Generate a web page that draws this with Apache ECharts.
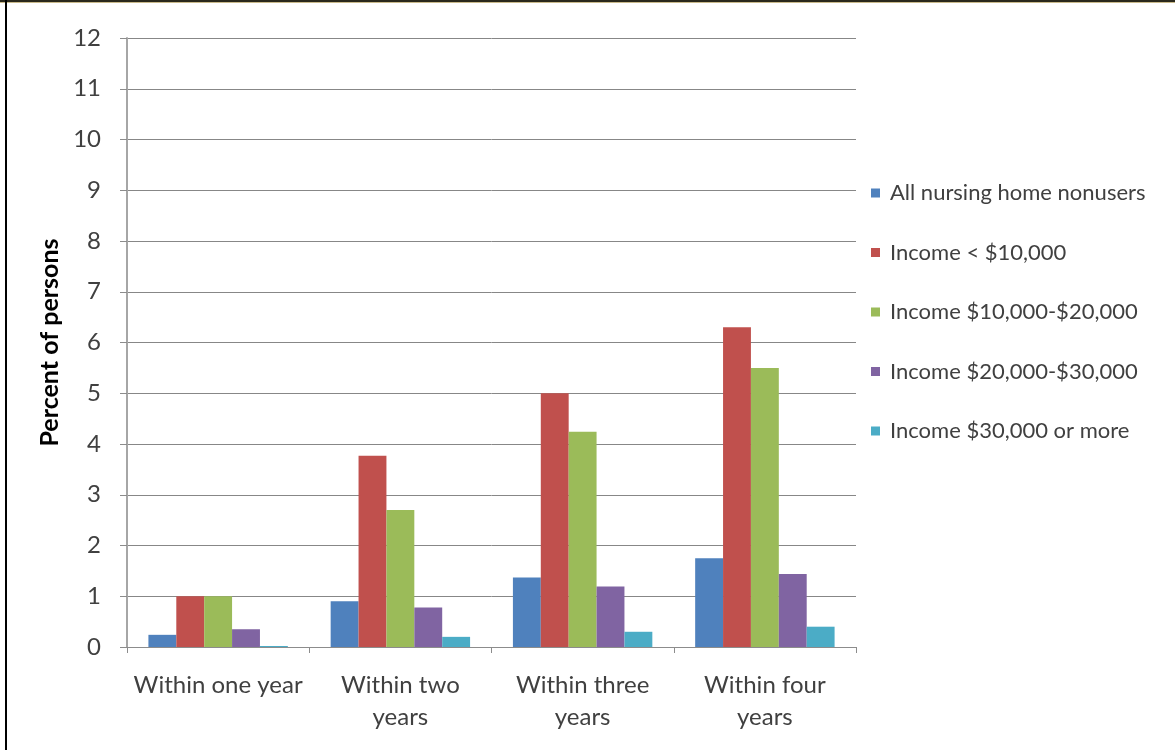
<!DOCTYPE html>
<html>
<head>
<meta charset="utf-8">
<script src="https://cdn.jsdelivr.net/npm/echarts@6/dist/echarts.min.js"></script>
<style>
  html, body { margin: 0; padding: 0; background: #fff; }
  #wrap { position: relative; width: 1175px; height: 750px; overflow: hidden; background: #fff; }
  #chart { position: absolute; left: 0; top: 0; width: 1175px; height: 750px; }
  #topline { position: absolute; left: 0; top: 0; width: 1175px; height: 2px; background: #2a281c; border-bottom: 1px solid #c9b98a; }
  #leftline { position: absolute; left: 5px; top: 0; width: 2px; height: 750px; background: #000; }
</style>
</head>
<body>
<div id="wrap">
  <div id="chart"></div>
  <div id="topline"></div>
  <div id="leftline"></div>
</div>
<script>
const categories = ['Within one year', 'Within two\nyears', 'Within three\nyears', 'Within four\nyears'];
const seriesNames = ['All nursing home nonusers', 'Income < $10,000', 'Income $10,000-$20,000', 'Income $20,000-$30,000', 'Income $30,000 or more'];
const allNonusers = [0.24, 0.9, 1.37, 1.75];
const incomeUnder10k = [1.0, 3.77, 5.0, 6.3];
const income10to20k = [1.0, 2.7, 4.24, 5.5];
const income20to30k = [0.35, 0.78, 1.19, 1.44];
const income30kPlus = [0.02, 0.2, 0.3, 0.4];
const yTicks = { min: 0, max: 12, interval: 1 };
const yAxisTitle = 'Percent of persons';

const colors = ['#4F81BD', '#C0504D', '#9BBB59', '#8064A2', '#4BACC6'];
const values = [allNonusers, incomeUnder10k, income10to20k, income20to30k, income30kPlus];
const font = 'Lato, "Open Sans", sans-serif';

const chart = echarts.init(document.getElementById('chart'), null, { renderer: 'canvas' });
chart.setOption({
  animation: false,
  color: colors,
  grid: { left: 127, right: 319, top: 38, bottom: 103, containLabel: false },
  legend: {
    orient: 'vertical',
    left: 866,
    top: 176,
    icon: 'rect',
    itemWidth: 9,
    itemHeight: 9,
    itemGap: 35.5,
    data: seriesNames,
    textStyle: { color: '#404040', fontSize: 22, fontFamily: font, lineHeight: 24, padding: [0, 0, 0, 5] }
  },
  xAxis: {
    type: 'category',
    data: categories,
    axisLine: { show: true, lineStyle: { color: '#8c8c8c', width: 1 } },
    axisTick: { show: true, length: 6, lineStyle: { color: '#8c8c8c' } },
    axisLabel: { interval: 0, hideOverlap: false, color: '#404040', fontSize: 24, fontFamily: font, lineHeight: 32, margin: 22 }
  },
  yAxis: {
    type: 'value',
    min: yTicks.min,
    max: yTicks.max,
    interval: yTicks.interval,
    name: yAxisTitle,
    nameLocation: 'middle',
    nameGap: 60,
    nameTextStyle: { color: '#000', fontSize: 25, fontWeight: 'bold', fontFamily: font },
    axisLine: { show: true, lineStyle: { color: '#a6a6a6', width: 2 } },
    axisTick: { show: true, length: 7, inside: false, lineStyle: { color: '#8c8c8c' } },
    axisLabel: { color: '#404040', fontSize: 24, fontFamily: font, margin: 26 },
    splitLine: { show: true, lineStyle: { color: '#878787', width: 1 } }
  },
  series: seriesNames.map((name, i) => ({
    name: name,
    type: 'bar',
    data: values[i],
    barGap: '0%',
    barCategoryGap: '23.5%',
    itemStyle: { color: colors[i] }
  }))
});
</script>
</body>
</html>
